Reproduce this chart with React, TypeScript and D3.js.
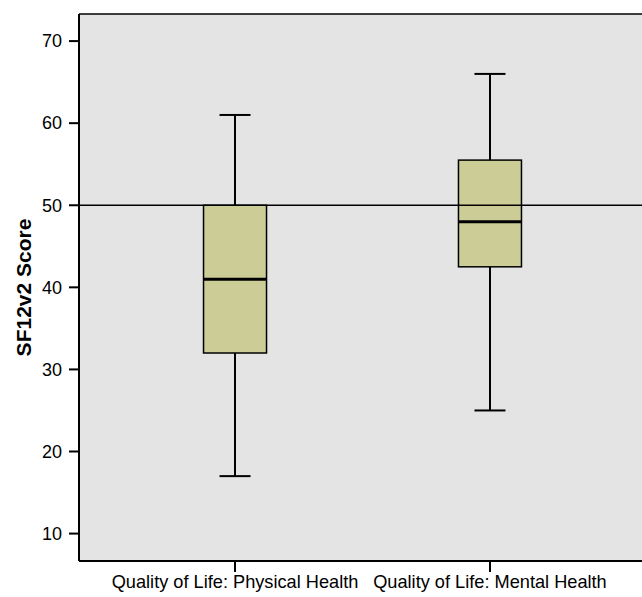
import React from "react";
import * as d3 from "d3";

const categories = ["Quality of Life: Physical Health", "Quality of Life: Mental Health"];
const whiskerLow = [17, 25];
const q1 = [32, 42.5];
const median = [41, 48];
const q3 = [50, 55.5];
const whiskerHigh = [61, 66];
const yTicks = [10, 20, 30, 40, 50, 60, 70];
const referenceValue = 50;

const W = 642;
const H = 597;
const plotLeft = 79;
const plotRight = 646;
const plotTop = 14;
const plotBottom = 561;

export default function App() {
  const y = d3.scaleLinear().domain([6.66, 73.3]).range([plotBottom, plotTop]);
  const x = d3.scalePoint<string>().domain(categories).range([plotLeft, plotRight]).padding(0.612);
  const boxW = 63;
  const capW = 31;
  const font = "Liberation Sans, Arial, Helvetica, sans-serif";

  return (
    <svg width={W} height={H} style={{ position: "absolute", left: 0, top: 0, overflow: "hidden", background: "#fff" }}>
      <rect x={plotLeft} y={plotTop} width={plotRight - plotLeft} height={plotBottom - plotTop} fill="#e4e4e4" />
      {categories.map((c, i) => {
        const cx = x(c)!;
        return (
          <g key={c}>
            <line x1={cx} x2={cx} y1={y(whiskerHigh[i])} y2={y(q3[i])} stroke="#000" strokeWidth={2} />
            <line x1={cx} x2={cx} y1={y(q1[i])} y2={y(whiskerLow[i])} stroke="#000" strokeWidth={2} />
            <line x1={cx - capW / 2} x2={cx + capW / 2} y1={y(whiskerHigh[i])} y2={y(whiskerHigh[i])} stroke="#000" strokeWidth={2} />
            <line x1={cx - capW / 2} x2={cx + capW / 2} y1={y(whiskerLow[i])} y2={y(whiskerLow[i])} stroke="#000" strokeWidth={2} />
            <rect x={cx - boxW / 2} y={y(q3[i])} width={boxW} height={y(q1[i]) - y(q3[i])} fill="#cccc96" stroke="#000" strokeWidth={1.5} />
            <line x1={cx - boxW / 2} x2={cx + boxW / 2} y1={y(median[i])} y2={y(median[i])} stroke="#000" strokeWidth={3} />
          </g>
        );
      })}
      <line x1={plotLeft} x2={plotRight} y1={y(referenceValue)} y2={y(referenceValue)} stroke="#000" strokeWidth={1.3} />
      <line x1={plotLeft} x2={plotRight} y1={plotTop} y2={plotTop} stroke="#000" strokeWidth={1.5} />
      <line x1={plotLeft} x2={plotLeft} y1={plotTop} y2={plotBottom} stroke="#000" strokeWidth={2} />
      <line x1={plotLeft} x2={plotRight} y1={plotBottom} y2={plotBottom} stroke="#000" strokeWidth={2} />
      {yTicks.map((t) => (
        <g key={t}>
          <line x1={plotLeft - 10} x2={plotLeft} y1={y(t)} y2={y(t)} stroke="#000" strokeWidth={2} />
          <text x={62} y={y(t)} dy="0.35em" textAnchor="end" fontFamily={font} fontSize={18} fill="#000">{t}</text>
        </g>
      ))}
      {categories.map((c) => (
        <g key={c}>
          <line x1={x(c)!} x2={x(c)!} y1={plotBottom} y2={plotBottom + 11} stroke="#000" strokeWidth={2} />
          <text x={x(c)!} y={588} textAnchor="middle" fontFamily={font} fontSize={18.2} fill="#000">{c}</text>
        </g>
      ))}
      <text transform={`translate(31, ${(plotTop + plotBottom) / 2}) rotate(-90)`} textAnchor="middle" fontFamily={font} fontSize={21} fontWeight="bold" fill="#000">SF12v2 Score</text>
    </svg>
  );
}
